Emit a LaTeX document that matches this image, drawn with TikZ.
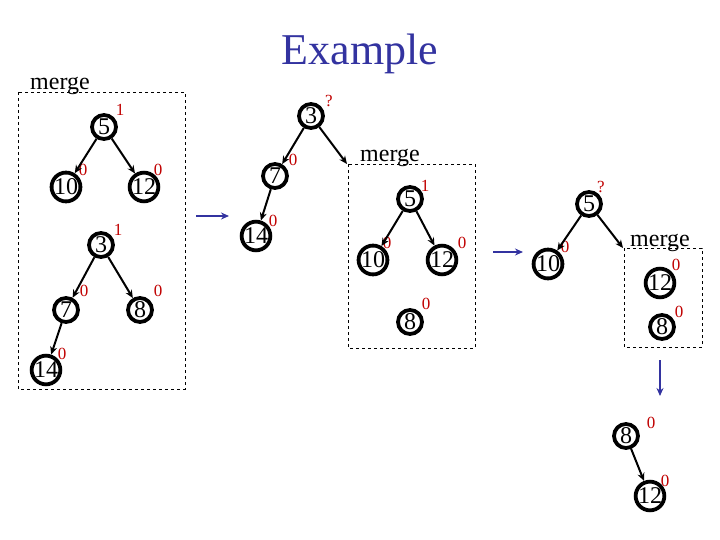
\documentclass[tikz,border=0pt]{standalone}
\usepackage{fontspec}
\setmainfont{Liberation Serif}
\usetikzlibrary{arrows.meta}
\definecolor{labred}{HTML}{C00000}
\definecolor{titleblue}{HTML}{3333A0}
\begin{document}
\begin{tikzpicture}[x=1pt,y=-1pt,
  vtx/.style={circle, draw, line width=3.8pt, minimum size=24pt, inner sep=0pt, font=\fontsize{24}{24}\selectfont},
  lab/.style={text=labred, inner sep=0pt, font=\fontsize{17}{17}\selectfont},
  edge/.style={line width=2pt, -{Stealth[length=8pt,width=7pt]}},
  step arrow/.style={draw=titleblue, line width=2pt, -{Stealth[length=8pt,width=7pt]}},
  mbox/.style={dashed, line width=0.7pt},
  mlabel/.style={anchor=base west, inner sep=0pt, font=\fontsize{24}{24}\selectfont}]
\useasboundingbox (0,0) rectangle (720,540);
% title
\node[text=titleblue, font=\fontsize{44}{44}\selectfont] (title) at (360,54) {Example};

% ---- panel 1
\draw[mbox] (18,92) rectangle (185,389);
\node[mlabel] (m1) at (30,90) {merge};
\node[vtx] (a5) at (104,127) {5};
\node[vtx] (a10) at (66,187) {10};
\node[vtx] (a12) at (144,187) {12};
\node[vtx] (a3) at (101,245) {3};
\node[vtx] (a7) at (66,310) {7};
\node[vtx] (a8) at (140,310) {8};
\node[vtx] (a14) at (46,370) {14};
\node[lab] (la5) at (120,110) {1};
\node[lab] (la10) at (83,170) {0};
\node[lab] (la12) at (158,170) {0};
\node[lab] (la3) at (118,230) {1};
\node[lab] (la7) at (84,291) {0};
\node[lab] (la8) at (158,291) {0};
\node[lab] (la14) at (62,354) {0};
\draw[edge] (a5) -- (a10);
\draw[edge] (a5) -- (a12);
\draw[edge] (a3) -- (a7);
\draw[edge] (a3) -- (a8);
\draw[edge] (a7) -- (a14);

% arrow 1
\coordinate (s1a) at (196,216);
\coordinate (s1b) at (229,216);
\draw[step arrow] (s1a) -- (s1b);

% ---- panel 2
\node[vtx] (b3) at (311,116) {3};
\node[vtx] (b7) at (275,176) {7};
\node[vtx] (b14) at (256,236) {14};
\node[lab] (lb3) at (329,101) {?};
\node[lab] (lb7) at (293,160) {0};
\node[lab] (lb14) at (273,221) {0};
\coordinate (bc) at (347,164);
\draw[edge] (b3) -- (b7);
\draw[edge] (b7) -- (b14);
\draw[edge] (b3) -- (bc);
\draw[mbox] (348,164) rectangle (475,348);
\node[mlabel] (m2) at (360,162) {merge};
\node[vtx] (c5) at (410,199) {5};
\node[vtx] (c10) at (373,260) {10};
\node[vtx] (c12) at (442,260) {12};
\node[vtx] (c8) at (410,322) {8};
\node[lab] (lc5) at (425,186) {1};
\node[lab] (lc10) at (387,243) {0};
\node[lab] (lc12) at (462,243) {0};
\node[lab] (lc8) at (426,304) {0};
\draw[edge] (c5) -- (c10);
\draw[edge] (c5) -- (c12);

% arrow 2
\coordinate (s2a) at (493,252);
\coordinate (s2b) at (523,252);
\draw[step arrow] (s2a) -- (s2b);

% ---- panel 3
\node[vtx] (d5) at (589,204) {5};
\node[vtx] (d10) at (548,264) {10};
\node[lab] (ld5) at (601,187) {?};
\node[lab] (ld10) at (565,247) {0};
\coordinate (dc) at (623,248);
\draw[edge] (d5) -- (d10);
\draw[edge] (d5) -- (dc);
\draw[mbox] (624,248) rectangle (702,347);
\node[mlabel] (m3) at (630,246) {merge};
\node[vtx] (e12) at (660,283) {12};
\node[vtx] (e8) at (662,327) {8};
\node[lab] (le12) at (676,265) {0};
\node[lab] (le8) at (679,312) {0};

% arrow 3
\coordinate (s3a) at (660,360);
\coordinate (s3b) at (660,396);
\draw[step arrow] (s3a) -- (s3b);

% ---- panel 4
\node[vtx] (f8) at (626,436) {8};
\node[vtx] (f12) at (650,496) {12};
\node[lab] (lf8) at (651,423) {0};
\node[lab] (lf12) at (665,481) {0};
\draw[edge] (f8) -- (f12);
\end{tikzpicture}
\end{document}
